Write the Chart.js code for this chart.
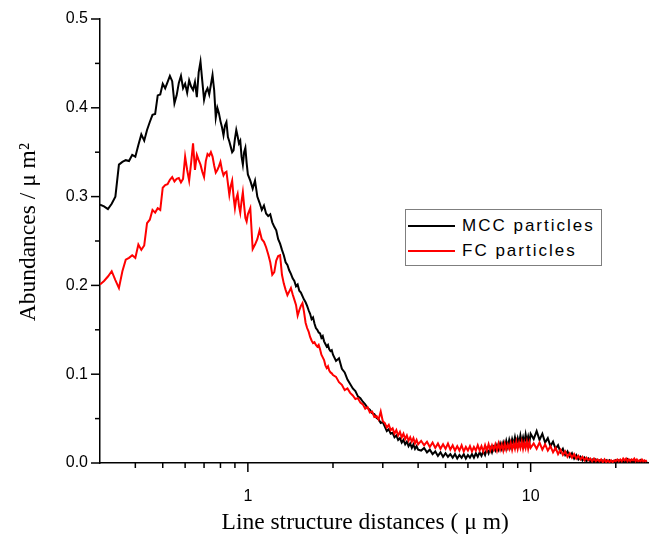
<!DOCTYPE html>
<html><head><meta charset="utf-8">
<script src="https://cdn.jsdelivr.net/npm/chart.js@4/dist/chart.umd.min.js"></script>
<style>
html,body{margin:0;padding:0;background:#fff;}
#wrap{position:relative;width:649px;height:535px;}
#legend{position:absolute;left:405px;top:209px;width:197px;height:57px;border:1px solid #7f7f7f;background:#fff;box-sizing:border-box;font-family:"Liberation Sans",Arial,sans-serif;font-size:17px;letter-spacing:2px;color:#000;}
.row{position:absolute;left:0;height:22px;display:flex;align-items:center;white-space:nowrap;}
.sw{width:47px;height:0;border-top:2px solid;margin-left:2px;margin-right:7px;}
</style></head><body>
<div id="wrap"><canvas id="c" width="649" height="535"></canvas><div id="legend"></div></div>
<script>
const distances = [
0.30,0.31,0.32,0.33,0.34,0.35,0.36,0.37,0.38,0.39,
0.40,0.41,0.42,0.43,0.44,0.45,0.46,0.47,0.48,0.49,
0.50,0.51,0.52,0.53,0.54,0.55,0.56,0.57,0.58,0.59,
0.60,0.61,0.62,0.63,0.64,0.65,0.66,0.67,0.68,0.69,
0.70,0.71,0.72,0.73,0.74,0.75,0.76,0.77,0.78,0.79,
0.80,0.81,0.82,0.83,0.84,0.85,0.86,0.87,0.88,0.89,
0.90,0.91,0.92,0.93,0.94,0.95,0.96,0.97,0.98,0.99,
1.00,
1.02,1.04,1.06,1.08,1.10,1.12,1.14,1.16,1.18,1.20,
1.22,1.24,1.26,1.28,1.30,1.32,1.34,1.36,1.38,1.40,
1.42,1.44,1.46,1.48,1.50,1.52,1.54,1.56,1.58,1.60,
1.62,1.64,1.66,1.68,1.70,1.72,1.74,1.76,1.78,1.80,
1.82,1.84,1.86,1.88,1.90,1.92,1.94,1.96,1.98,2.00,
2.05,2.10,2.15,2.20,2.25,2.30,2.35,2.40,2.45,2.50,
2.55,2.60,2.65,2.70,2.75,2.80,2.85,2.90,2.95,3.00,
3.05,3.10,3.15,3.20,3.25,3.30,3.35,3.40,3.45,3.50,
3.55,3.60,3.65,3.70,3.75,3.80,3.85,3.90,3.95,4.00,
4.1,4.2,4.3,4.4,4.5,4.6,4.7,4.8,4.9,5.0,
5.1,5.2,5.3,5.4,5.5,5.6,5.7,5.8,5.9,6.0,
6.1,6.2,6.3,6.4,6.5,6.6,6.7,6.8,6.9,7.0,
7.1,7.2,7.3,7.4,7.5,7.6,7.7,7.8,7.9,8.0,
8.1,8.2,8.3,8.4,8.5,8.6,8.7,8.8,8.9,9.0,
9.1,9.2,9.3,9.4,9.5,9.6,9.7,9.8,9.9,10.0,
10.25,10.5,10.75,11.0,11.25,11.5,11.75,12.0,12.25,12.5,
12.75,13.0,13.25,13.5,13.75,14.0,14.25,14.5,14.75,15.0,
15.25,15.5,15.75,16.0,16.25,16.5,16.75,17.0,17.25,17.5,
17.75,18.0,18.25,18.5,18.75,19.0,19.25,19.5,19.75,20.0,
20.25,20.5,20.75,21.0,21.25,21.5,21.75,22.0,22.25,22.5,
22.75,23.0,23.25,23.5,23.75,24.0,24.25,24.5,24.75,25.0,
25.25,25.5,25.75
];

const mccParticles = [
0.291,0.289,0.286,0.292,0.300,0.336,0.339,0.341,0.340,0.347,
0.345,0.358,0.370,0.363,0.375,0.384,0.392,0.393,0.414,0.415,
0.427,0.422,0.429,0.436,0.430,0.405,0.414,0.428,0.436,0.422,
0.427,0.417,0.431,0.424,0.420,0.429,0.412,0.440,0.452,0.430,
0.409,0.418,0.422,0.415,0.426,0.437,0.420,0.389,0.400,0.394,
0.385,0.378,0.369,0.380,0.384,0.367,0.362,0.356,0.350,0.352,
0.365,0.375,0.368,0.360,0.363,0.345,0.336,0.350,0.355,0.338,
0.325,
0.318,0.309,0.318,0.300,0.293,0.285,0.290,0.281,0.278,0.280,
0.271,0.266,0.262,0.252,0.247,0.240,0.234,0.226,0.223,0.217,
0.213,0.208,0.205,0.199,0.201,0.194,0.192,0.188,0.184,0.181,
0.177,0.172,0.168,0.162,0.164,0.157,0.152,0.150,0.147,0.146,
0.141,0.143,0.137,0.134,0.131,0.133,0.128,0.126,0.127,0.122,
0.115,0.118,0.106,0.102,0.094,0.089,0.084,0.081,0.075,0.073,
0.069,0.066,0.062,0.060,0.056,0.055,0.051,0.049,0.045,0.046,
0.041,0.036,0.038,0.033,0.034,0.029,0.031,0.026,0.028,0.023,
0.026,0.021,0.024,0.019,0.022,0.017,0.021,0.016,0.019,0.015,
0.014,0.017,0.012,0.015,0.010,0.013,0.008,0.012,0.007,0.011,
0.007,0.010,0.006,0.010,0.005,0.009,0.006,0.010,0.005,0.009,
0.006,0.010,0.006,0.011,0.007,0.012,0.008,0.013,0.009,0.016,
0.011,0.017,0.012,0.018,0.014,0.020,0.015,0.022,0.016,0.023,
0.017,0.025,0.018,0.026,0.019,0.027,0.021,0.029,0.021,0.028,
0.022,0.031,0.023,0.029,0.022,0.032,0.024,0.030,0.023,0.033,
0.027,0.036,0.026,0.033,0.023,0.028,0.019,0.024,0.016,0.020,
0.012,0.016,0.009,0.013,0.007,0.011,0.005,0.009,0.004,0.007,
0.003,0.006,0.002,0.005,0.002,0.004,0.001,0.004,0.001,0.003,
0.001,0.003,0.001,0.003,0.001,0.003,0.001,0.002,0.001,0.003,
0.001,0.003,0.001,0.002,0.001,0.003,0.002,0.004,0.001,0.003,
0.001,0.002,0.001,0.003,0.001,0.002,0.001,0.003,0.001,0.002,
0.001,0.002,0.001
];

const fcParticles = [
0.201,0.205,0.210,0.216,0.206,0.197,0.216,0.229,0.231,0.234,
0.231,0.246,0.240,0.245,0.270,0.274,0.285,0.282,0.287,0.285,
0.310,0.313,0.314,0.319,0.322,0.317,0.320,0.321,0.316,0.320,
0.345,0.330,0.318,0.338,0.360,0.330,0.347,0.341,0.336,0.328,
0.322,0.340,0.348,0.346,0.350,0.345,0.335,0.327,0.330,0.334,
0.339,0.330,0.324,0.327,0.328,0.315,0.302,0.312,0.318,0.300,
0.287,0.298,0.303,0.290,0.282,0.295,0.305,0.290,0.276,0.272,
0.280,
0.287,0.241,0.246,0.252,0.262,0.252,0.249,0.243,0.235,0.226,
0.212,0.215,0.228,0.233,0.234,0.212,0.202,0.195,0.189,0.193,
0.197,0.190,0.184,0.178,0.166,0.172,0.177,0.180,0.170,0.158,
0.152,0.148,0.142,0.138,0.135,0.136,0.133,0.131,0.133,0.128,
0.122,0.119,0.116,0.110,0.107,0.109,0.104,0.102,0.101,0.099,
0.097,0.091,0.088,0.082,0.084,0.079,0.076,0.072,0.073,0.068,
0.066,0.061,0.063,0.057,0.058,0.052,0.053,0.049,0.058,0.047,
0.045,0.040,0.043,0.037,0.039,0.033,0.037,0.031,0.035,0.029,
0.033,0.027,0.031,0.025,0.029,0.024,0.028,0.022,0.026,0.021,
0.025,0.020,0.024,0.018,0.023,0.017,0.022,0.016,0.021,0.016,
0.022,0.015,0.020,0.014,0.019,0.014,0.020,0.013,0.018,0.014,
0.019,0.013,0.018,0.014,0.020,0.014,0.019,0.013,0.020,0.014,
0.021,0.014,0.020,0.015,0.021,0.014,0.022,0.015,0.021,0.014,
0.022,0.015,0.021,0.016,0.023,0.015,0.022,0.016,0.024,0.016,
0.023,0.017,0.024,0.016,0.023,0.017,0.024,0.016,0.023,0.017,
0.022,0.016,0.023,0.015,0.021,0.014,0.019,0.012,0.017,0.010,
0.015,0.009,0.013,0.007,0.011,0.006,0.010,0.005,0.008,0.004,
0.007,0.003,0.006,0.003,0.005,0.002,0.005,0.002,0.004,0.002,
0.004,0.001,0.004,0.001,0.003,0.001,0.003,0.001,0.003,0.002,
0.004,0.002,0.004,0.002,0.005,0.003,0.005,0.002,0.004,0.002,
0.004,0.003,0.005,0.002,0.004,0.002,0.003,0.002,0.004,0.002,
0.003,0.002,0.003
];

const seriesNames = ['MCC particles', 'FC particles'];
const seriesColors = ['#000000', '#ff0000'];
const xMajorTicks = [1, 10];
const xMinorTicks = [0.4,0.5,0.6,0.7,0.8,0.9,2,3,4,5,6,7,8,9,20];
const yMajorTicks = [0, 0.1, 0.2, 0.3, 0.4, 0.5];
const yMinorTicks = [0.05, 0.15, 0.25, 0.35, 0.45];
const xTitle = 'Line structure distances ( \u03bc m)';
const yTitle = 'Abundances / \u03bc m\u00b2';

const toPoints = vals => distances.map((d, i) => ({x: d, y: vals[i]}));

const tickMarks = {
  id: 'tickMarks',
  afterDraw(chart) {
    const ctx = chart.ctx, xs = chart.scales.x, ys = chart.scales.y;
    ctx.save();
    ctx.strokeStyle = '#000';
    ctx.lineWidth = 1.5;
    const seg = (x1, y1, x2, y2) => { ctx.beginPath(); ctx.moveTo(x1, y1); ctx.lineTo(x2, y2); ctx.stroke(); };
    const x0 = xs.left, y0 = ys.bottom;
    yMajorTicks.forEach(v => { const p = ys.getPixelForValue(v); seg(x0, p, x0 - 9, p); });
    yMinorTicks.forEach(v => { const p = ys.getPixelForValue(v); seg(x0, p, x0 - 5, p); });
    xMajorTicks.forEach(v => { const p = xs.getPixelForValue(v); seg(p, y0, p, y0 + 9); });
    xMinorTicks.forEach(v => { const p = xs.getPixelForValue(v); seg(p, y0, p, y0 + 5); });
    ctx.restore();
  }
};

const htmlLegend = {
  id: 'htmlLegend',
  afterUpdate(chart) {
    const box = document.getElementById('legend');
    box.innerHTML = '';
    chart.data.datasets.forEach((ds, i) => {
      const row = document.createElement('div');
      row.className = 'row';
      row.style.top = (5 + i * 25) + 'px';
      const sw = document.createElement('span');
      sw.className = 'sw';
      sw.style.borderTopColor = ds.borderColor;
      const tx = document.createElement('span');
      tx.textContent = ds.label;
      row.appendChild(sw); row.appendChild(tx);
      box.appendChild(row);
    });
  }
};

new Chart(document.getElementById('c'), {
  type: 'line',
  data: {
    datasets: [
      {label: seriesNames[0], data: toPoints(mccParticles), borderColor: seriesColors[0], backgroundColor: seriesColors[0], borderWidth: 2, pointRadius: 0, tension: 0, order: 1},
      {label: seriesNames[1], data: toPoints(fcParticles), borderColor: seriesColors[1], backgroundColor: seriesColors[1], borderWidth: 2, pointRadius: 0, tension: 0, order: 0}
    ]
  },
  options: {
    responsive: false,
    animation: false,
    devicePixelRatio: 1,
    layout: {padding: {top: 19, right: 1, bottom: 0, left: 0}},
    plugins: {legend: {display: false}, tooltip: {enabled: false}},
    scales: {
      x: {
        type: 'logarithmic',
        min: 0.3, max: 26,
        afterFit: s => { s.height = 72; },
        afterBuildTicks: s => { s.ticks = xMajorTicks.map(v => ({value: v})); },
        border: {display: true, color: '#000', width: 1.5},
        grid: {display: true, drawOnChartArea: false, drawTicks: true, tickLength: 9, color: 'rgba(0,0,0,0)'},
        ticks: {autoSkip: false, maxRotation: 0, minRotation: 0, padding: 15, color: '#000',
          font: {family: '"Liberation Sans", Arial, sans-serif', size: 16},
          callback: v => String(v)},
        title: {display: true, text: xTitle + '\u00a0\u00a0\u00a0', color: '#000',
          font: {family: '"Liberation Serif", "Times New Roman", serif', size: 23.5, lineHeight: 1},
          padding: {top: -3.75, bottom: 0}}
      },
      y: {
        min: 0, max: 0.5,
        afterFit: s => { s.width = 100; },
        afterBuildTicks: s => { s.ticks = yMajorTicks.map(v => ({value: v})); },
        border: {display: true, color: '#000', width: 1.5},
        grid: {display: true, drawOnChartArea: false, drawTicks: true, tickLength: 9, color: 'rgba(0,0,0,0)'},
        ticks: {padding: 3, color: '#000',
          font: {family: '"Liberation Sans", Arial, sans-serif', size: 16},
          callback: v => Number(v).toFixed(1)},
        title: {display: true, text: '\u00a0\u00a0\u00a0' + yTitle, color: '#000',
          font: {family: '"Liberation Serif", "Times New Roman", serif', size: 23.5, lineHeight: 1},
          padding: {top: 17.25, bottom: 0}}
      }
    }
  },
  plugins: [tickMarks, htmlLegend]
});
</script>
</body></html>
